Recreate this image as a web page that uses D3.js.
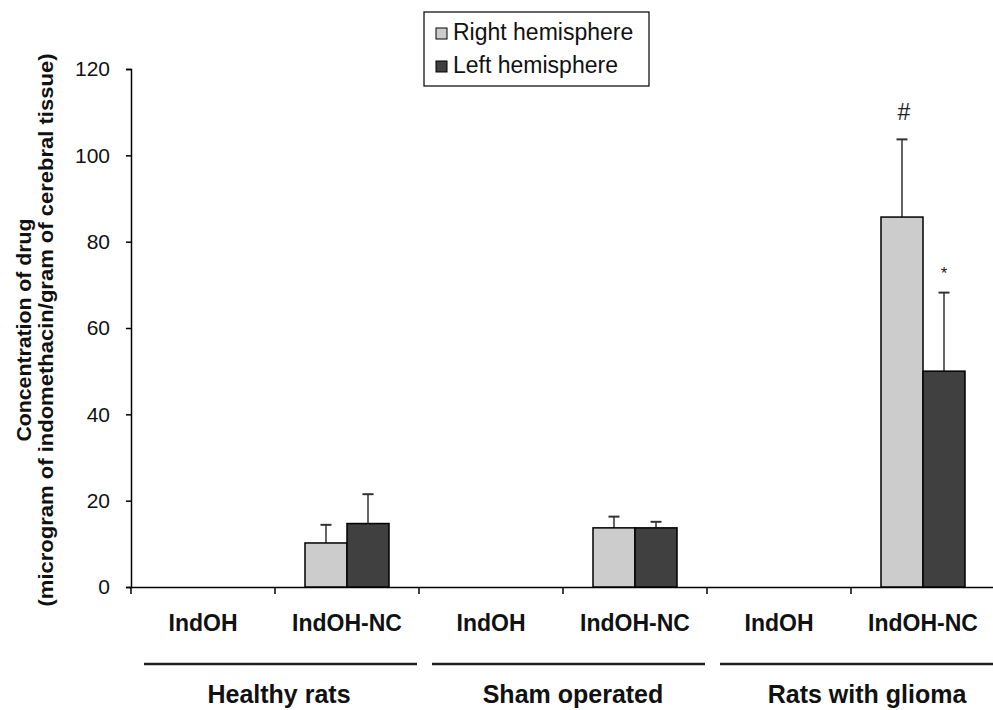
<!DOCTYPE html>
<html>
<head>
<meta charset="utf-8">
<script src="https://cdn.jsdelivr.net/npm/d3@7"></script>
<style>
  body { margin: 0; background: #fff; }
  svg { display: block; font-family: "Liberation Sans", Arial, sans-serif; }
</style>
</head>
<body>
<div id="viz"></div>
<script>
// data
var groups = ["Healthy rats", "Sham operated", "Rats with glioma"];
var categories = ["IndOH", "IndOH-NC"];
var series = ["Right hemisphere", "Left hemisphere"];
// one entry per group x category, null = no bar drawn
var rightMean = [null, 10.2, null, 13.7, null, 85.7];
var rightErr  = [null, 4.2,  null, 2.6,  null, 18.0];
var leftMean  = [null, 14.7, null, 13.7, null, 50.0];
var leftErr   = [null, 6.8,  null, 1.4,  null, 18.2];
var marks     = [null, null, null, null, null, null, null, null, null, null, "#", "*"]; // per bar
var yTicks = [0, 20, 40, 60, 80, 100, 120];

var width = 993, height = 710;
var margin = {top: 69, right: -2, bottom: 123, left: 131};

var svg = d3.select("#viz").append("svg")
  .attr("width", width)
  .attr("height", height);

// build slot keys: group|category
var slots = [];
groups.forEach(function (g) {
  categories.forEach(function (c) { slots.push(g + "|" + c); });
});

var x0 = d3.scaleBand()
  .domain(slots)
  .range([margin.left, width - margin.right]);

var x1 = d3.scaleBand()
  .domain(series)
  .range([0, x0.bandwidth()])
  .paddingOuter(0.714);

var y = d3.scaleLinear()
  .domain([0, 120])
  .range([height - margin.bottom, margin.top]);

var bars = [];
slots.forEach(function (s, i) {
  bars.push({slot: s, series: series[0], v: rightMean[i], e: rightErr[i], mark: marks[i * 2]});
  bars.push({slot: s, series: series[1], v: leftMean[i], e: leftErr[i], mark: marks[i * 2 + 1]});
});
bars = bars.filter(function (d) { return d.v !== null; });

var color = d3.scaleOrdinal().domain(series).range(["#cccccc", "#404040"]);

// y axis
var yAxis = svg.append("g")
  .attr("transform", "translate(" + margin.left + ",0)")
  .call(d3.axisLeft(y).tickValues(yTicks).tickSize(5).tickPadding(16));
yAxis.select(".domain").attr("stroke", "#000").attr("stroke-width", 1.5);
yAxis.selectAll(".tick line").attr("stroke-width", 1.5);
yAxis.selectAll("text").attr("font-size", 21).attr("fill", "#111");

// x axis
var xAxis = svg.append("g")
  .attr("transform", "translate(0," + y(0) + ")")
  .call(d3.axisBottom(x0).tickSize(0).tickPadding(28).tickFormat(function (d) { return d.split("|")[1]; }));
xAxis.select(".domain").attr("stroke", "#000").attr("stroke-width", 1.5);
xAxis.selectAll("text").attr("font-size", 23).attr("font-weight", "bold").attr("fill", "#111");

// category boundary ticks
xAxis.selectAll(".sep")
  .data(slots)
  .enter().append("line")
  .attr("class", "sep")
  .attr("x1", function (d) { return x0(d); })
  .attr("x2", function (d) { return x0(d); })
  .attr("y1", 0).attr("y2", 7)
  .attr("stroke", "#000").attr("stroke-width", 1.5);

// bars
var bar = svg.append("g").selectAll("g.bar")
  .data(bars)
  .enter().append("g")
  .attr("class", "bar")
  .attr("transform", function (d) { return "translate(" + (x0(d.slot) + x1(d.series)) + ",0)"; });

bar.append("line")
  .attr("x1", x1.bandwidth() / 2).attr("x2", x1.bandwidth() / 2)
  .attr("y1", function (d) { return y(d.v); })
  .attr("y2", function (d) { return y(d.v + d.e); })
  .attr("stroke", "#333").attr("stroke-width", 1.5);

bar.append("line")
  .attr("x1", x1.bandwidth() / 2 - 5.5).attr("x2", x1.bandwidth() / 2 + 5.5)
  .attr("y1", function (d) { return y(d.v + d.e); })
  .attr("y2", function (d) { return y(d.v + d.e); })
  .attr("stroke", "#333").attr("stroke-width", 2);

bar.append("rect")
  .attr("x", 0)
  .attr("width", x1.bandwidth())
  .attr("y", function (d) { return y(d.v); })
  .attr("height", function (d) { return y(0) - y(d.v); })
  .attr("fill", function (d) { return color(d.series); })
  .attr("stroke", "#000").attr("stroke-width", 1.5);

bar.filter(function (d) { return d.mark; }).append("text")
  .attr("x", function (d) { return x1.bandwidth() / 2 + (d.mark === "#" ? 2 : 0); })
  .attr("y", function (d) { return y(d.v + d.e) - (d.mark === "#" ? 19 : 14); })
  .attr("text-anchor", "middle")
  .attr("font-size", function (d) { return d.mark === "#" ? 23 : 17; })
  .attr("fill", "#222")
  .text(function (d) { return d.mark; });

// group lines and labels
function gStart(g) { return x0(g + "|" + categories[0]); }
function gEnd(g) { return x0(g + "|" + categories[1]) + x0.bandwidth(); }

var grp = svg.append("g").selectAll("g")
  .data(groups)
  .enter().append("g");

grp.append("line")
  .attr("x1", function (d) { return gStart(d) + 13; })
  .attr("x2", function (d) { return gEnd(d) - 2; })
  .attr("y1", 664).attr("y2", 664)
  .attr("stroke", "#222").attr("stroke-width", 2.5);

grp.append("text")
  .attr("x", function (d, i) { return (gStart(d) + gEnd(d)) / 2 + 4 + i * 6; })
  .attr("y", 703)
  .attr("text-anchor", "middle")
  .attr("font-size", 25).attr("font-weight", "bold")
  .attr("fill", "#111")
  .text(function (d) { return d; });

// y title
var title = svg.append("text")
  .attr("transform", "translate(31,330) rotate(-90)")
  .attr("text-anchor", "middle")
  .attr("font-size", 20).attr("font-weight", "bold")
  .attr("fill", "#111");
title.append("tspan").attr("x", 0).attr("dy", 0)
  .attr("textLength", 223).attr("lengthAdjust", "spacingAndGlyphs")
  .text("Concentration of drug");
title.append("tspan").attr("x", 0).attr("dy", 22)
  .attr("textLength", 553).attr("lengthAdjust", "spacingAndGlyphs")
  .text("(microgram of indomethacin/gram of cerebral tissue)");

// legend
var legend = svg.append("g").attr("transform", "translate(424,12)");
legend.append("rect")
  .attr("width", 225).attr("height", 74)
  .attr("fill", "#fff").attr("stroke", "#000").attr("stroke-width", 1.2);
var li = legend.selectAll("g.item")
  .data(series)
  .enter().append("g")
  .attr("class", "item")
  .attr("transform", function (d, i) { return "translate(12," + (16 + i * 33) + ")"; });
li.append("rect")
  .attr("width", 11).attr("height", 11)
  .attr("fill", function (d) { return color(d); })
  .attr("stroke", "#000").attr("stroke-width", 1);
li.append("text")
  .attr("x", 17).attr("y", 12)
  .attr("font-size", 23)
  .attr("fill", "#111")
  .text(function (d) { return d; });
</script>
</body>
</html>
